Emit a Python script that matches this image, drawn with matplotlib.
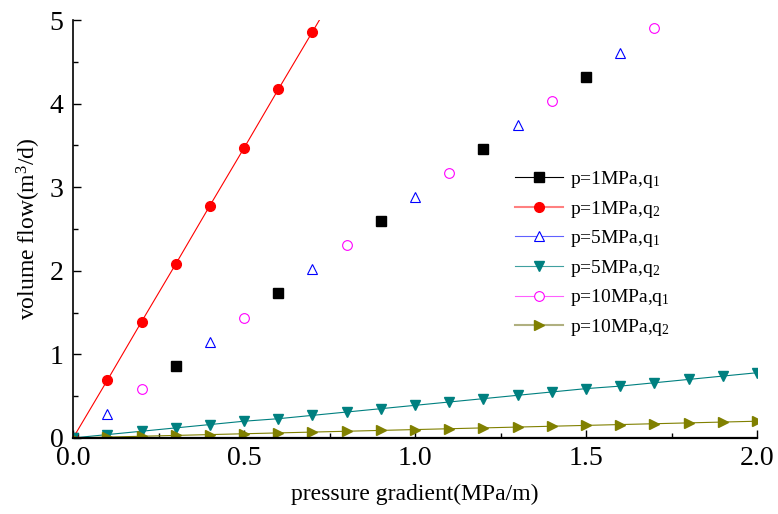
import matplotlib
matplotlib.use("Agg")
import matplotlib.pyplot as plt
from matplotlib.lines import Line2D
from matplotlib.ticker import MultipleLocator

plt.rcParams['font.family'] = ['Liberation Serif', 'DejaVu Serif']
plt.rcParams['mathtext.fontset'] = 'custom'
plt.rcParams['mathtext.rm'] = 'Liberation Serif'
plt.rcParams['mathtext.it'] = 'Liberation Serif'

# data
x_p1q1 = [0.0, 0.3, 0.6, 0.9, 1.2, 1.5]
y_p1q1 = [0.0, 0.86, 1.73, 2.59, 3.46, 4.32]
x_p1q2 = [0.0, 0.1, 0.2, 0.3, 0.4, 0.5, 0.6, 0.7, 0.8]
y_p1q2 = [0.0, 0.69, 1.39, 2.08, 2.78, 3.47, 4.17, 4.86, 5.55]
x_p5q1 = [0.1, 0.4, 0.7, 1.0, 1.3, 1.6]
y_p5q1 = [0.29, 1.15, 2.02, 2.88, 3.75, 4.61]
x_p5q2 = [0.0, 0.1, 0.2, 0.3, 0.4, 0.5, 0.6, 0.7, 0.8, 0.9, 1.0,
          1.1, 1.2, 1.3, 1.4, 1.5, 1.6, 1.7, 1.8, 1.9, 2.0]
y_p5q2 = [0.0, 0.04, 0.08, 0.12, 0.16, 0.20, 0.23, 0.27, 0.31, 0.35, 0.39,
          0.43, 0.47, 0.51, 0.55, 0.59, 0.62, 0.66, 0.70, 0.74, 0.78]
x_p10q1 = [0.2, 0.5, 0.8, 1.1, 1.4, 1.7]
y_p10q1 = [0.58, 1.44, 2.31, 3.17, 4.03, 4.90]
x_p10q2 = [0.0, 0.1, 0.2, 0.3, 0.4, 0.5, 0.6, 0.7, 0.8, 0.9, 1.0,
           1.1, 1.2, 1.3, 1.4, 1.5, 1.6, 1.7, 1.8, 1.9, 2.0]
y_p10q2 = [0.0, 0.01, 0.02, 0.03, 0.04, 0.05, 0.06, 0.07, 0.08, 0.09, 0.10,
           0.11, 0.12, 0.13, 0.14, 0.15, 0.16, 0.17, 0.18, 0.19, 0.20]

x_ticks = [0.0, 0.5, 1.0, 1.5, 2.0]
x_ticklabels = ['0.0', '0.5', '1.0', '1.5', '2.0']

labels = [r'p=1MPa,q$\mathregular{_1}$', r'p=1MPa,q$\mathregular{_2}$',
          r'p=5MPa,q$\mathregular{_1}$', r'p=5MPa,q$\mathregular{_2}$',
          r'p=10MPa,q$\mathregular{_1}$', r'p=10MPa,q$\mathregular{_2}$']

fig = plt.figure(figsize=(7.78, 5.14), dpi=100)
ax = fig.add_axes([0.094, 0.148, 0.879, 0.813])

ms = 7
ax.plot(x_p1q1, y_p1q1, ls='none', marker='s', color='black', ms=6.5)
ax.plot(x_p1q2, y_p1q2, ls='-', lw=0.8, marker='o', color='red', mfc='red', mec='red', ms=ms)
ax.plot(x_p5q1, y_p5q1, ls='none', marker='^', color='blue', mfc='none', mec='blue', ms=ms, mew=0.8)
ax.plot(x_p5q2, y_p5q2, ls='-', lw=0.8, marker='v', color='#008080', ms=ms)
ax.plot(x_p10q1, y_p10q1, ls='none', marker='o', color='magenta', mfc='none', mec='magenta', ms=ms, mew=0.8)
ax.plot(x_p10q2, y_p10q2, ls='-', lw=0.8, marker='>', color='#808000', ms=ms)

handles = [
    Line2D([], [], color='black', lw=0.8, marker='s', ms=6.5),
    Line2D([], [], color='#ff8080', lw=1.5, marker='o', mfc='red', mec='red', ms=ms),
    Line2D([], [], color='#6060ff', lw=0.8, marker='^', mfc='white', mec='blue', ms=ms, mew=0.8),
    Line2D([], [], color='#40a0a0', lw=0.8, marker='v', mfc='#008080', mec='#008080', ms=ms),
    Line2D([], [], color='#ff60ff', lw=0.8, marker='o', mfc='white', mec='magenta', ms=ms, mew=0.8),
    Line2D([], [], color='#b0b080', lw=1.5, marker='>', mfc='#808000', mec='#808000', ms=ms),
]
ax.legend(handles, labels, loc='upper left', bbox_to_anchor=(0.62, 0.685), frameon=False,
          fontsize=14, handlelength=2.5, labelspacing=0.44, handletextpad=0.35)

ax.set_xlim(0, 2.0)
ax.set_ylim(0, 5)
ax.xaxis.set_minor_locator(MultipleLocator(0.25))
ax.yaxis.set_major_locator(MultipleLocator(1))
ax.yaxis.set_minor_locator(MultipleLocator(0.5))
ax.set_xticks(x_ticks)
ax.set_xticklabels(x_ticklabels)
ax.tick_params(which='major', direction='in', length=6, width=1, labelsize=20)
ax.tick_params(which='minor', direction='in', length=3.5, width=1)
ax.tick_params(axis='x', pad=6)
ax.tick_params(axis='y', pad=7)
ax.spines['top'].set_visible(False)
ax.spines['right'].set_visible(False)
ax.spines['left'].set_linewidth(1.2)
ax.spines['bottom'].set_linewidth(1.6)

ax.set_xlabel('pressure gradient(MPa/m)', fontsize=17, labelpad=9)
ax.set_ylabel(r'volume flow(m$\mathregular{^3}$/d)', fontsize=17, labelpad=5)

fig.savefig('out.png', dpi=100)
